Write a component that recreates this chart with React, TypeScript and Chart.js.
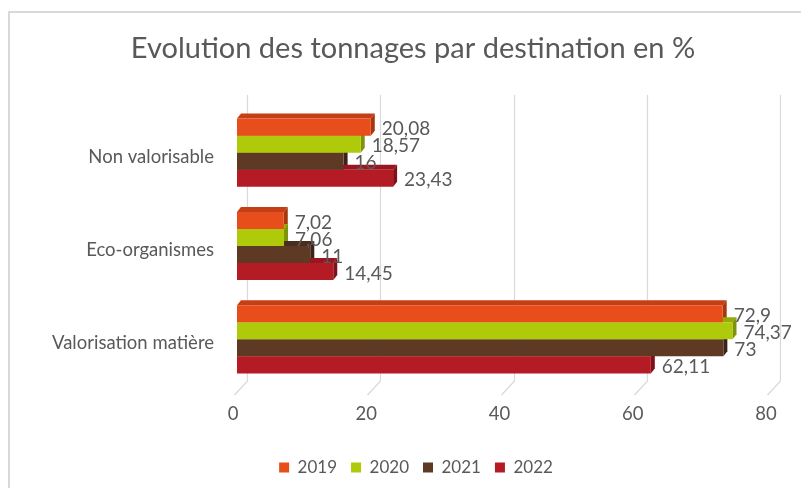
import React, { useEffect, useRef } from "react";
import { Chart, registerables } from "chart.js";

Chart.register(...registerables);

const categories = ["Non valorisable", "Eco-organismes", "Valorisation matière"];
const years = ["2019", "2020", "2021", "2022"];
const values2019 = [20.08, 7.02, 72.9];
const values2020 = [18.57, 7.06, 74.37];
const values2021 = [16, 11, 73];
const values2022 = [23.43, 14.45, 62.11];
const xTicks = [0, 20, 40, 60, 80];
const chartTitle = "Evolution des tonnages par destination en %";

const frontColors = ["#E84E1B", "#AFCA0B", "#5E3A25", "#B51B25"];
const topColors = ["#C43E16", "#93AA09", "#4A2E1D", "#981620"];
const sideColors = ["#A8360F", "#7E9307", "#3B2417", "#7E1119"];

const FONT = "Lato, 'Open Sans', sans-serif";
const TEXT = "#595959";
const GRID = "#D9D9D9";

const formatFr = (v: number) => String(v).replace(".", ",");

const framePlugin = {
  id: "frame",
  beforeDraw(chart: any) {
    const ctx = chart.ctx;
    ctx.save();
    ctx.fillStyle = "#FFFFFF";
    ctx.fillRect(0, 0, chart.width, chart.height);
    ctx.fillStyle = "#D9D9D9";
    ctx.fillRect(8, 11, 2, chart.height - 11);
    ctx.fillRect(8, 11, chart.width - 8, 2);
    ctx.restore();
  },
};

const shiftPlugin = {
  id: "shiftBoxes",
  afterLayout(chart: any) {
    const lg = chart.legend;
    if (lg) {
      lg.left += 26;
      lg.right += 26;
    }
    const tb = chart.titleBlock;
    if (tb) {
      tb.left += 23;
      tb.right += 23;
    }
  },
};

const wallPlugin = {
  id: "wall3d",
  beforeDatasetsDraw(chart: any) {
    const ctx = chart.ctx;
    const xs = chart.scales.x;
    const { top, bottom } = chart.chartArea;
    ctx.save();
    ctx.strokeStyle = GRID;
    ctx.lineWidth = 1.2;
    xTicks.forEach((v) => {
      const xf = Math.round(xs.getPixelForValue(v)) + 0.5;
      const back = xf + 10;
      ctx.beginPath();
      ctx.moveTo(back, top - 11);
      ctx.lineTo(back, bottom - 5);
      ctx.lineTo(back - 13, bottom + 9);
      ctx.stroke();
    });
    const dx = 4;
    const dy = 5;
    chart.data.datasets.forEach((_ds: any, di: number) => {
      const meta = chart.getDatasetMeta(di);
      meta.data.forEach((bar: any) => {
        const xe = bar.x;
        const xb = bar.base;
        const yt = bar.y - bar.height / 2;
        const yb = bar.y + bar.height / 2;
        ctx.fillStyle = topColors[di];
        ctx.beginPath();
        ctx.moveTo(xb, yt);
        ctx.lineTo(xb + dx, yt - dy);
        ctx.lineTo(xe + dx, yt - dy);
        ctx.lineTo(xe, yt);
        ctx.closePath();
        ctx.fill();
        ctx.fillStyle = sideColors[di];
        ctx.beginPath();
        ctx.moveTo(xe, yt);
        ctx.lineTo(xe + dx, yt - dy);
        ctx.lineTo(xe + dx, yb - dy);
        ctx.lineTo(xe, yb);
        ctx.closePath();
        ctx.fill();
      });
    });
    ctx.restore();
  },
  afterDatasetsDraw(chart: any) {
    const ctx = chart.ctx;
    ctx.save();
    ctx.font = `19px ${FONT}`;
    ctx.fillStyle = TEXT;
    ctx.textAlign = "left";
    ctx.textBaseline = "middle";
    chart.data.datasets.forEach((ds: any, di: number) => {
      const meta = chart.getDatasetMeta(di);
      meta.data.forEach((bar: any, i: number) => {
        ctx.fillText(formatFr(ds.data[i]), bar.x + 11, bar.y + 2);
      });
    });
    ctx.restore();
  },
};

export default function App() {
  const ref = useRef<HTMLCanvasElement | null>(null);

  useEffect(() => {
    if (!ref.current) return;
    const series = [values2019, values2020, values2021, values2022];
    const chart = new Chart(ref.current, {
      type: "bar",
      data: {
        labels: categories,
        datasets: years.map((y, i) => ({
          label: y,
          data: series[i],
          backgroundColor: frontColors[i],
          borderWidth: 0,
          barPercentage: 1,
          categoryPercentage: 0.73,
        })),
      },
      options: {
        indexAxis: "y",
        responsive: false,
        animation: false,
        devicePixelRatio: 1,
        layout: { padding: { left: 10, right: 31, top: 0, bottom: 2 } },
        font: { family: FONT },
        scales: {
          x: {
            min: 0,
            max: 80,
            ticks: {
              stepSize: 20,
              color: TEXT,
              font: { size: 18.5, family: FONT },
              padding: 16.5,
              labelOffset: -4,
            },
            grid: { display: false, drawTicks: false },
            border: { display: false },
            afterFit: (s: any) => {
              s.height = 59;
            },
          },
          y: {
            type: "category",
            ticks: {
              color: TEXT,
              font: { size: 18.5, family: FONT },
              padding: 23,
              labelOffset: 4,
            },
            grid: { display: false, drawTicks: false },
            border: { display: false },
            afterFit: (s: any) => {
              s.width = 227;
            },
          },
        },
        plugins: {
          title: {
            display: true,
            text: chartTitle,
            color: TEXT,
            font: { size: 29, weight: "normal", family: FONT },
            padding: { top: 31.6, bottom: 39.6 },
          },
          legend: {
            position: "bottom",
            labels: {
              boxWidth: 10,
              boxHeight: 10,
              color: TEXT,
              font: { size: 17, family: FONT },
              padding: 14,
            },
          },
          tooltip: { enabled: false },
        },
      } as any,
      plugins: [framePlugin, shiftPlugin, wallPlugin],
    });
    return () => chart.destroy();
  }, []);

  return (
    <div style={{ position: "fixed", left: 0, top: 0, width: 801, height: 488 }}>
      <canvas ref={ref} width={801} height={488} style={{ display: "block" }} />
    </div>
  );
}
